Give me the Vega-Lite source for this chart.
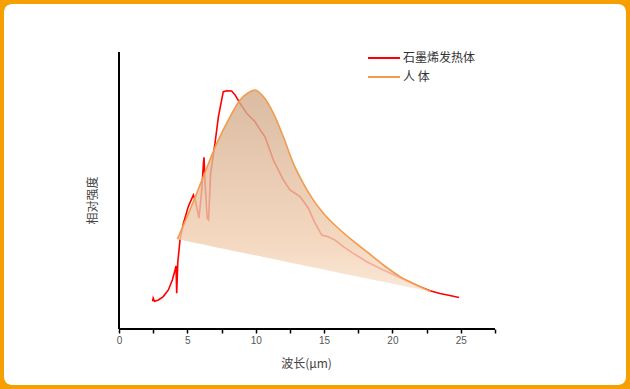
{
  "$schema": "https://vega.github.io/schema/vega-lite/v6.json",
  "width": 622,
  "height": 381,
  "padding": 4,
  "autosize": {"type": "none"},
  "background": "#F5A000",
  "config": {
    "view": {"fill": "white", "stroke": null, "cornerRadius": 8},
    "font": "Noto Sans CJK SC"
  },
  "datasets": {
    "graphene": [
      {"x": 2.45, "y": 0.100}, {"x": 2.5, "y": 0.112}, {"x": 2.6, "y": 0.100}, {"x": 2.88, "y": 0.105},
      {"x": 3.24, "y": 0.117}, {"x": 3.61, "y": 0.141}, {"x": 3.9, "y": 0.177}, {"x": 4.1, "y": 0.213},
      {"x": 4.17, "y": 0.228}, {"x": 4.22, "y": 0.129}, {"x": 4.3, "y": 0.24}, {"x": 4.46, "y": 0.321},
      {"x": 4.71, "y": 0.381}, {"x": 5.07, "y": 0.442}, {"x": 5.44, "y": 0.484}, {"x": 5.6, "y": 0.46},
      {"x": 5.85, "y": 0.40}, {"x": 6.05, "y": 0.50}, {"x": 6.18, "y": 0.60}, {"x": 6.22, "y": 0.62},
      {"x": 6.27, "y": 0.55}, {"x": 6.45, "y": 0.40}, {"x": 6.55, "y": 0.394}, {"x": 6.7, "y": 0.56},
      {"x": 7.02, "y": 0.67}, {"x": 7.27, "y": 0.766}, {"x": 7.51, "y": 0.827}, {"x": 7.63, "y": 0.857},
      {"x": 7.88, "y": 0.86}, {"x": 8.24, "y": 0.859}, {"x": 8.49, "y": 0.845}, {"x": 8.85, "y": 0.815},
      {"x": 9.34, "y": 0.779}, {"x": 9.95, "y": 0.748}, {"x": 10.31, "y": 0.72}, {"x": 10.68, "y": 0.694},
      {"x": 11.29, "y": 0.61}, {"x": 12.02, "y": 0.538}, {"x": 12.5, "y": 0.502}, {"x": 13.24, "y": 0.478},
      {"x": 13.85, "y": 0.436}, {"x": 14.34, "y": 0.382}, {"x": 14.83, "y": 0.339}, {"x": 15.31, "y": 0.333},
      {"x": 15.8, "y": 0.321}, {"x": 16.41, "y": 0.297}, {"x": 17.14, "y": 0.273}, {"x": 18.12, "y": 0.243},
      {"x": 19.34, "y": 0.213}, {"x": 20.56, "y": 0.185}, {"x": 21.78, "y": 0.157}, {"x": 22.75, "y": 0.138},
      {"x": 23.48, "y": 0.128}, {"x": 24.2, "y": 0.121}, {"x": 24.87, "y": 0.114}
    ],
    "body": [
      {"x": 4.27, "y": 0.324, "y2": 0.324}, {"x": 5.19, "y": 0.43, "y2": 0.3146},
      {"x": 6.17, "y": 0.55, "y2": 0.3046}, {"x": 7.15, "y": 0.67, "y2": 0.2946},
      {"x": 8.12, "y": 0.766, "y2": 0.2847}, {"x": 8.85, "y": 0.827, "y2": 0.2773},
      {"x": 9.46, "y": 0.853, "y2": 0.2711}, {"x": 9.95, "y": 0.863, "y2": 0.2661},
      {"x": 10.56, "y": 0.839, "y2": 0.2598}, {"x": 11.29, "y": 0.779, "y2": 0.2524},
      {"x": 12.02, "y": 0.694, "y2": 0.2450}, {"x": 12.75, "y": 0.598, "y2": 0.2375},
      {"x": 13.48, "y": 0.526, "y2": 0.2301}, {"x": 14.21, "y": 0.466, "y2": 0.2226},
      {"x": 14.95, "y": 0.418, "y2": 0.2151}, {"x": 15.92, "y": 0.369, "y2": 0.2052},
      {"x": 16.9, "y": 0.327, "y2": 0.1952}, {"x": 18.12, "y": 0.279, "y2": 0.1827},
      {"x": 19.34, "y": 0.231, "y2": 0.1703}, {"x": 20.56, "y": 0.189, "y2": 0.1578},
      {"x": 21.78, "y": 0.159, "y2": 0.1454}, {"x": 22.8, "y": 0.135, "y2": 0.1350}
    ]
  },
  "encoding": {
    "x": {
      "field": "x", "type": "quantitative",
      "scale": {"domain": [-8.413, 37.088], "nice": false, "zero": false},
      "axis": {
        "orient": "bottom", "offset": -56, "domain": false, "grid": false,
        "values": [0, 2.5, 5, 7.5, 10, 12.5, 15, 17.5, 20, 22.5, 25, 27.5],
        "labelExpr": "datum.value % 5 === 0 ? datum.label : ''",
        "labelOverlap": false, "labelBound": false,
        "tickColor": "#000", "tickSize": 4, "tickWidth": 1.5,
        "labelFont": "Liberation Sans", "labelFontSize": 10, "labelColor": "#555", "labelPadding": 2,
        "title": "波长(μm)", "titleFont": "Noto Sans CJK SC", "titleFontSize": 12,
        "titleFontWeight": "normal", "titleColor": "#444",
        "titleX": 302, "titleY": 34, "titleBaseline": "middle", "titleAlign": "center"
      }
    },
    "y": {
      "field": "y", "type": "quantitative",
      "scale": {"domain": [-0.2022, 1.1733], "nice": false, "zero": false},
      "axis": {
        "orient": "left", "offset": -115, "domain": false, "grid": false,
        "ticks": false, "labels": false,
        "title": "相对强度", "titleFont": "Noto Sans CJK SC", "titleFontSize": 12,
        "titleFontWeight": "normal", "titleColor": "#444",
        "titleX": -27, "titleY": 196, "titleAngle": -90,
        "titleBaseline": "middle", "titleAlign": "center"
      }
    }
  },
  "layer": [
    {
      "data": {"name": "graphene"},
      "mark": {"type": "line", "strokeWidth": 1.6, "interpolate": "linear"},
      "encoding": {
        "color": {
          "datum": "石墨烯发热体",
          "scale": {"domain": ["石墨烯发热体", "人 体"], "range": ["#FF0000", "#F29B4B"]},
          "legend": {
            "orient": "none", "legendX": 374, "legendY": 48, "title": null,
            "symbolType": "M-3.2,0H3.2", "symbolSize": 100, "symbolStrokeWidth": 2,
            "labelFont": "Noto Sans CJK SC", "labelFontSize": 12, "labelColor": "#333",
            "labelOffset": 13, "rowPadding": 7
          }
        }
      }
    },
    {
      "data": {"name": "body"},
      "mark": {
        "type": "area", "interpolate": "monotone", "fillOpacity": 0.8,
        "fill": {
          "gradient": "linear", "x1": 0, "y1": 0, "x2": 0, "y2": 1,
          "stops": [
            {"offset": 0, "color": "#D1AB8B"},
            {"offset": 0.75, "color": "#F1CEB0"},
            {"offset": 1, "color": "#F9E2CD"}
          ]
        }
      },
      "encoding": {
        "y2": {"field": "y2"}
      }
    },
    {
      "data": {"name": "body"},
      "mark": {"type": "line", "strokeWidth": 1.6, "interpolate": "monotone"},
      "encoding": {
        "color": {"datum": "人 体"}
      }
    },
    {
      "data": {"values": [{"x": 0, "y": 0}]},
      "mark": {"type": "rule", "color": "#000", "strokeWidth": 2},
      "encoding": {
        "x2": {"datum": 27.5}
      }
    },
    {
      "data": {"values": [{"x": 0, "y": 0}]},
      "mark": {"type": "rule", "color": "#000", "strokeWidth": 2},
      "encoding": {
        "y2": {"datum": 1.0}
      }
    }
  ]
}
